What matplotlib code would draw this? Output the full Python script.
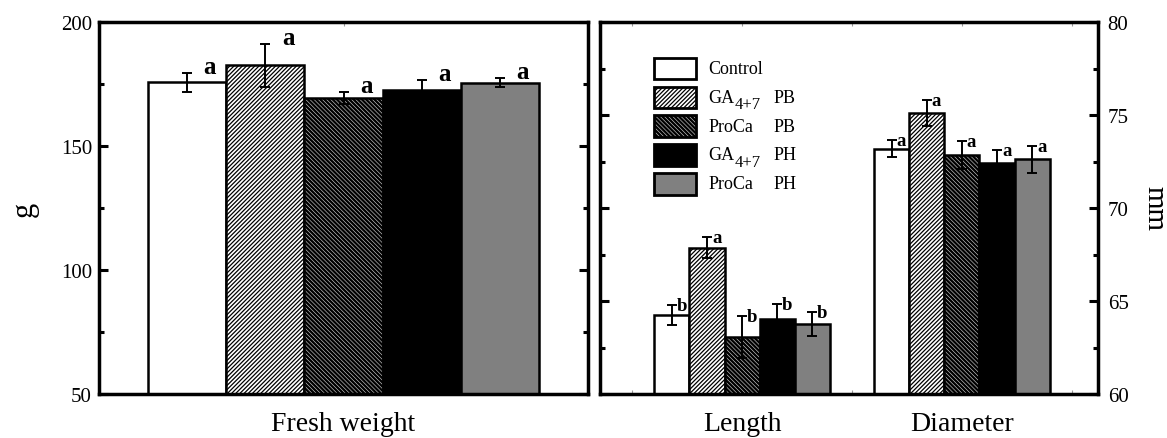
import matplotlib
matplotlib.use("Agg")
import matplotlib.pyplot as plt
from matplotlib.patches import Rectangle
from matplotlib.ticker import MultipleLocator, FixedLocator

plt.rcParams["font.family"] = ["Liberation Serif", "DejaVu Serif"]
plt.rcParams["hatch.linewidth"] = 0.9

# treatments (legend order)
treatments = ["Control", "GA", "ProCa", "GA", "ProCa"]
subscripts = ["", "4+7", "", "4+7", ""]
stages = ["", "PB", "PB", "PH", "PH"]

# fresh weight, g
fw_mean = [175.7, 182.5, 169.3, 172.6, 175.6]
fw_err = [3.8, 8.8, 2.4, 3.9, 1.7]
fw_letters = ["a", "a", "a", "a", "a"]

# fruit length / diameter, mm
groups = ["Length", "Diameter"]
len_mean = [64.25, 67.86, 63.05, 64.04, 63.77]
len_err = [0.55, 0.57, 1.13, 0.79, 0.64]
len_letters = ["b", "a", "b", "b", "b"]
dia_mean = [73.18, 75.11, 72.86, 72.43, 72.61]
dia_err = [0.45, 0.72, 0.76, 0.71, 0.71]
dia_letters = ["a", "a", "a", "a", "a"]

# bar styles: (facecolor, hatch)
styles = [("white", ""), ("white", "////////"), ("#d8d8d8", "\\\\\\\\\\\\\\\\"),
          ("black", ""), ("#808080", "")]

W, H = 1167, 439
fig = plt.figure(figsize=(W / 100, H / 100), dpi=100)
ax1 = fig.add_axes([99 / W, 44 / H, 489 / W, 372 / H])
ax2 = fig.add_axes([600 / W, 44 / H, 498 / W, 372 / H])


def style_bar(patch, i):
    fc, hatch = styles[i]
    patch.set_facecolor(fc)
    patch.set_hatch(hatch)
    if i == 2 and hasattr(patch, "set_hatch_linewidth"):
        patch.set_hatch_linewidth(1.7)


def draw_group(ax, center, width, means, errs, letters, dx, dy, lsize):
    for i, (m, e, let) in enumerate(zip(means, errs, letters)):
        x = center + (i - 2) * width
        bars = ax.bar(x, m, width, edgecolor="black", linewidth=1.8, zorder=2)
        style_bar(bars[0], i)
        ax.errorbar(x, m, yerr=e, fmt="none", ecolor="black", elinewidth=1.4,
                    capsize=3.6, capthick=1.4, zorder=3)
        ax.annotate(let, (x, m + e), xytext=(dx, dy), textcoords="offset points",
                    ha="center", va="baseline", fontsize=lsize, fontweight="bold")


def frame(ax):
    for sp in ax.spines.values():
        sp.set_linewidth(2.5)
    ax.tick_params(axis="y", which="both", direction="in", left=True, right=True,
                   width=2.2, labelsize=15)
    ax.tick_params(axis="y", which="major", length=6.5)
    ax.tick_params(axis="y", which="minor", length=3.6)
    ax.tick_params(axis="x", which="both", direction="in", top=True, bottom=True,
                   length=3, width=0.8, color="#999999", labelsize=20, pad=12)


# left panel: fresh weight
draw_group(ax1, 0, 1.0, fw_mean, fw_err, fw_letters, 16.5, 0, 18)
ax1.set_xlim(-3.125, 3.125)
ax1.set_ylim(50, 200)
ax1.yaxis.set_major_locator(MultipleLocator(50))
ax1.yaxis.set_minor_locator(MultipleLocator(25))
ax1.set_xticks([0])
ax1.set_xticklabels(["Fresh weight"])
frame(ax1)
ax1.tick_params(axis="y", pad=5)
ax1.set_ylabel("g", fontsize=22, labelpad=16)

# right panel: length and diameter
bw = 0.16
draw_group(ax2, 1, bw, len_mean, len_err, len_letters, 7, -3.6, 13.5)
draw_group(ax2, 2, bw, dia_mean, dia_err, dia_letters, 7, -3.6, 13.5)
ax2.set_xlim(0.353, 2.62)
ax2.set_ylim(60, 80)
ax2.yaxis.set_major_locator(MultipleLocator(5))
ax2.yaxis.set_minor_locator(MultipleLocator(2.5))
ax2.set_xticks([1, 2])
ax2.set_xticklabels(groups)
ax2.xaxis.set_minor_locator(FixedLocator([0.5, 1.5, 2.5]))
frame(ax2)
ax2.tick_params(axis="y", which="both", labelleft=False, labelright=True, pad=7)
ax2.yaxis.set_label_position("right")
ax2.set_ylabel("mm", fontsize=21, rotation=270, labelpad=28)

# legend drawn by hand so the PB/PH column lines up
for i in range(len(treatments)):
    yc = 0.875 - i * 0.0775
    rect = Rectangle((0.109, yc - 0.029), 0.083, 0.058, transform=ax2.transAxes,
                     edgecolor="black", linewidth=2.0, zorder=4)
    style_bar(rect, i)
    ax2.add_patch(rect)
    name = ax2.text(0.218, yc, treatments[i], transform=ax2.transAxes, fontsize=13,
                    va="center", ha="left")
    if subscripts[i]:
        ax2.annotate(subscripts[i], xy=(1, 0.5), xycoords=name, xytext=(0.3, -5),
                     textcoords="offset points", fontsize=12, va="center", ha="left")
    if stages[i]:
        ax2.text(0.348, yc, stages[i], transform=ax2.transAxes, fontsize=13,
                 va="center", ha="left")

fig.savefig("out.png", dpi=100)
